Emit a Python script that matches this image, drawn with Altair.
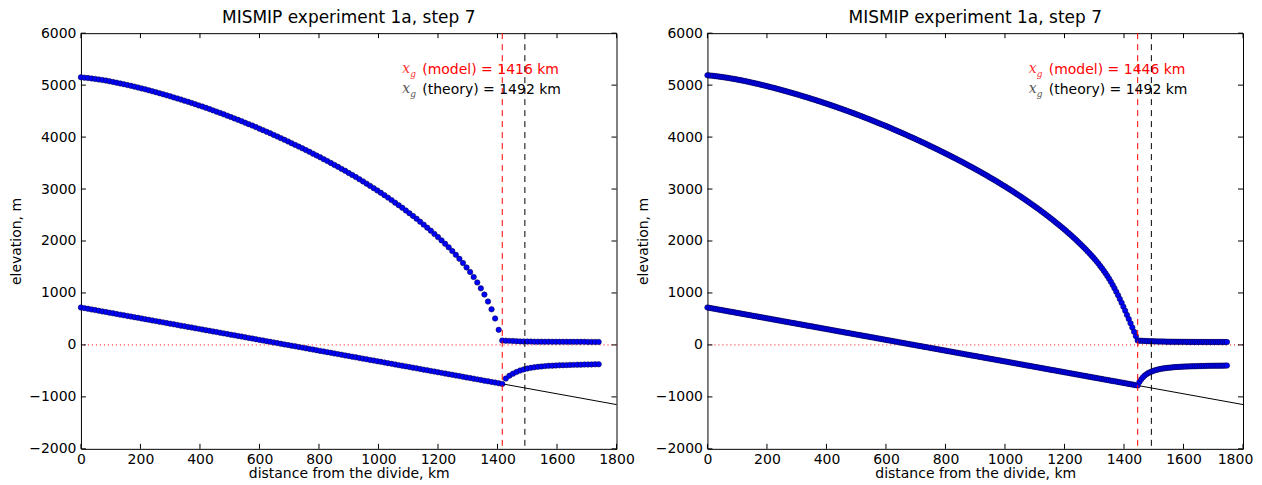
import altair as alt
import pandas as pd

TITLE = "MISMIP experiment 1a, step 7"
X_TITLE = "distance from the divide, km"
Y_TITLE = "elevation, m"

x_ticks = [0, 200, 400, 600, 800, 1000, 1200, 1400, 1600, 1800]
y_ticks = [-2000, -1000, 0, 1000, 2000, 3000, 4000, 5000, 6000]

bed_x = [0, 1800]
bed_y = [720, -1148]

xg_theory = 1492
xg_model_left = 1416
xg_model_right = 1446

annot_x = 1080
annot_y = [5300, 4900]
annot_left = ["(model) = 1416 km", "(theory) = 1492 km"]
annot_right = ["(model) = 1446 km", "(theory) = 1492 km"]
annot_colors = ["#ff0000", "#000000"]
annot_sym_colors = ["#ff3030", "#555555"]

# ---------------- left panel (12 km grid) ----------------
left_dist = [
    0, 12, 24, 36, 48, 60, 72, 84, 96, 108, 120, 132, 144, 156, 168, 180, 192, 204, 216, 228,
    240, 252, 264, 276, 288, 300, 312, 324, 336, 348, 360, 372, 384, 396, 408, 420, 432, 444, 456, 468,
    480, 492, 504, 516, 528, 540, 552, 564, 576, 588, 600, 612, 624, 636, 648, 660, 672, 684, 696, 708,
    720, 732, 744, 756, 768, 780, 792, 804, 816, 828, 840, 852, 864, 876, 888, 900, 912, 924, 936, 948,
    960, 972, 984, 996, 1008, 1020, 1032, 1044, 1056, 1068, 1080, 1092, 1104, 1116, 1128, 1140, 1152, 1164, 1176, 1188,
    1200, 1212, 1224, 1236, 1248, 1260, 1272, 1284, 1296, 1308, 1320, 1332, 1344, 1356, 1368, 1380, 1392, 1404, 1416, 1428,
    1440, 1452, 1464, 1476, 1488, 1500, 1512, 1524, 1536, 1548, 1560, 1572, 1584, 1596, 1608, 1620, 1632, 1644, 1656, 1668,
    1680, 1692, 1704, 1716, 1728, 1740,
]
left_surface_grounded = [
    5150, 5144, 5136, 5128, 5119, 5109, 5098, 5087, 5074, 5061,
    5047, 5033, 5018, 5003, 4987, 4971, 4954, 4937, 4919, 4901,
    4882, 4864, 4845, 4825, 4805, 4785, 4764, 4743, 4722, 4700,
    4678, 4656, 4633, 4610, 4587, 4563, 4539, 4514, 4489, 4464,
    4438, 4412, 4386, 4359, 4332, 4305, 4277, 4249, 4221, 4192,
    4162, 4133, 4103, 4073, 4042, 4011, 3980, 3948, 3916, 3883,
    3850, 3817, 3784, 3750, 3716, 3681, 3646, 3611, 3575, 3539,
    3502, 3464, 3427, 3388, 3350, 3310, 3270, 3230, 3189, 3147,
    3104, 3061, 3017, 2973, 2928, 2882, 2835, 2787, 2738, 2689,
    2639, 2587, 2535, 2482, 2428, 2372, 2315, 2257, 2198, 2137,
    2075, 2012, 1946, 1878, 1807, 1734, 1657, 1576, 1492, 1403,
    1306, 1202, 1089, 969, 835, 686, 509, 290,
]
left_surface_floating = [
    83, 80, 78, 76, 72, 68, 66, 65, 64, 63, 62, 62, 61, 61,
    60, 60, 60, 60, 60, 59, 59, 59, 59, 59, 58, 58, 58, 58,
]
left_base_grounded = [
    720, 708, 695, 683, 670, 658, 645, 633, 620, 608,
    595, 583, 571, 558, 546, 533, 521, 508, 496, 483,
    471, 458, 446, 434, 421, 409, 396, 384, 371, 359,
    346, 334, 321, 309, 297, 284, 272, 259, 247, 234,
    222, 209, 197, 184, 172, 160, 147, 135, 122, 110,
    97, 85, 72, 60, 47, 35, 22, 10, -2, -15,
    -27, -40, -52, -65, -77, -90, -102, -115, -127, -139,
    -152, -164, -177, -189, -202, -214, -227, -239, -252, -264,
    -276, -289, -301, -314, -326, -339, -351, -364, -376, -389,
    -401, -413, -426, -438, -451, -463, -476, -488, -501, -513,
    -526, -538, -551, -563, -575, -588, -600, -613, -625, -638,
    -650, -663, -675, -688, -700, -712, -725, -737,
]
left_base_floating = [
    -750, -648, -592, -553, -520, -493, -472, -455, -441, -430,
    -421, -414, -408, -403, -399, -396, -393, -391, -389, -386,
    -384, -382, -380, -378, -377, -375, -374, -373,
]

# ---------------- right panel (6 km grid) ----------------
right_dist = [
    0, 6, 12, 18, 24, 30, 36, 42, 48, 54, 60, 66, 72, 78, 84, 90, 96, 102, 108, 114,
    120, 126, 132, 138, 144, 150, 156, 162, 168, 174, 180, 186, 192, 198, 204, 210, 216, 222, 228, 234,
    240, 246, 252, 258, 264, 270, 276, 282, 288, 294, 300, 306, 312, 318, 324, 330, 336, 342, 348, 354,
    360, 366, 372, 378, 384, 390, 396, 402, 408, 414, 420, 426, 432, 438, 444, 450, 456, 462, 468, 474,
    480, 486, 492, 498, 504, 510, 516, 522, 528, 534, 540, 546, 552, 558, 564, 570, 576, 582, 588, 594,
    600, 606, 612, 618, 624, 630, 636, 642, 648, 654, 660, 666, 672, 678, 684, 690, 696, 702, 708, 714,
    720, 726, 732, 738, 744, 750, 756, 762, 768, 774, 780, 786, 792, 798, 804, 810, 816, 822, 828, 834,
    840, 846, 852, 858, 864, 870, 876, 882, 888, 894, 900, 906, 912, 918, 924, 930, 936, 942, 948, 954,
    960, 966, 972, 978, 984, 990, 996, 1002, 1008, 1014, 1020, 1026, 1032, 1038, 1044, 1050, 1056, 1062, 1068, 1074,
    1080, 1086, 1092, 1098, 1104, 1110, 1116, 1122, 1128, 1134, 1140, 1146, 1152, 1158, 1164, 1170, 1176, 1182, 1188, 1194,
    1200, 1206, 1212, 1218, 1224, 1230, 1236, 1242, 1248, 1254, 1260, 1266, 1272, 1278, 1284, 1290, 1296, 1302, 1308, 1314,
    1320, 1326, 1332, 1338, 1344, 1350, 1356, 1362, 1368, 1374, 1380, 1386, 1392, 1398, 1404, 1410, 1416, 1422, 1428, 1434,
    1440, 1446, 1452, 1458, 1464, 1470, 1476, 1482, 1488, 1494, 1500, 1506, 1512, 1518, 1524, 1530, 1536, 1542, 1548, 1554,
    1560, 1566, 1572, 1578, 1584, 1590, 1596, 1602, 1608, 1614, 1620, 1626, 1632, 1638, 1644, 1650, 1656, 1662, 1668, 1674,
    1680, 1686, 1692, 1698, 1704, 1710, 1716, 1722, 1728, 1734, 1740, 1746,
]
right_surface_grounded = [
    5190, 5187, 5183, 5179, 5175, 5171, 5167, 5162, 5157, 5152,
    5147, 5142, 5136, 5130, 5124, 5118, 5112, 5105, 5099, 5092,
    5085, 5078, 5071, 5063, 5056, 5048, 5040, 5033, 5025, 5017,
    5008, 5000, 4991, 4983, 4974, 4965, 4957, 4948, 4939, 4929,
    4920, 4911, 4901, 4892, 4882, 4873, 4863, 4853, 4843, 4834,
    4824, 4813, 4803, 4793, 4782, 4772, 4761, 4751, 4740, 4729,
    4718, 4707, 4696, 4685, 4674, 4663, 4651, 4640, 4628, 4616,
    4605, 4593, 4581, 4569, 4557, 4545, 4532, 4520, 4507, 4495,
    4482, 4470, 4457, 4444, 4431, 4418, 4405, 4391, 4378, 4365,
    4351, 4338, 4324, 4310, 4296, 4282, 4268, 4254, 4240, 4226,
    4212, 4197, 4183, 4168, 4153, 4138, 4124, 4109, 4094, 4079,
    4063, 4048, 4033, 4017, 4002, 3986, 3971, 3955, 3939, 3923,
    3907, 3891, 3875, 3858, 3842, 3826, 3809, 3793, 3776, 3759,
    3742, 3725, 3708, 3691, 3674, 3657, 3639, 3622, 3604, 3587,
    3569, 3551, 3533, 3515, 3497, 3478, 3460, 3441, 3423, 3404,
    3385, 3366, 3347, 3328, 3308, 3289, 3269, 3249, 3229, 3209,
    3189, 3168, 3148, 3127, 3106, 3085, 3064, 3043, 3021, 3000,
    2978, 2956, 2934, 2911, 2888, 2866, 2843, 2819, 2796, 2772,
    2748, 2724, 2700, 2676, 2651, 2626, 2601, 2575, 2550, 2524,
    2498, 2471, 2444, 2417, 2390, 2362, 2334, 2306, 2278, 2249,
    2220, 2191, 2161, 2131, 2100, 2069, 2037, 2005, 1972, 1939,
    1905, 1871, 1835, 1799, 1763, 1725, 1687, 1648, 1608, 1565,
    1521, 1475, 1428, 1378, 1327, 1272, 1215, 1154, 1091, 1024,
    956, 884, 811, 735, 657, 578, 498, 417, 335, 252,
    169,
]
right_surface_floating = [
    84, 82, 80, 78, 76, 74, 72, 71, 70, 69,
    68, 67, 66, 65, 64, 64, 63, 62, 62, 61,
    61, 60, 60, 60, 59, 59, 59, 59, 58, 58,
    58, 58, 58, 57, 57, 57, 57, 57, 57, 56,
    56, 56, 56, 56, 56, 56, 56, 56, 55, 55,
    55,
]
right_base_grounded = [
    720, 714, 708, 701, 695, 689, 683, 676, 670, 664,
    658, 651, 645, 639, 633, 627, 620, 614, 608, 602,
    595, 589, 583, 577, 571, 564, 558, 552, 546, 539,
    533, 527, 521, 514, 508, 502, 496, 490, 483, 477,
    471, 465, 458, 452, 446, 440, 434, 427, 421, 415,
    409, 402, 396, 390, 384, 377, 371, 365, 359, 353,
    346, 340, 334, 328, 321, 315, 309, 303, 297, 290,
    284, 278, 272, 265, 259, 253, 247, 240, 234, 228,
    222, 216, 209, 203, 197, 191, 184, 178, 172, 166,
    160, 153, 147, 141, 135, 128, 122, 116, 110, 103,
    97, 91, 85, 79, 72, 66, 60, 54, 47, 41,
    35, 29, 22, 16, 10, 4, -2, -9, -15, -21,
    -27, -34, -40, -46, -52, -59, -65, -71, -77, -83,
    -90, -96, -102, -108, -115, -121, -127, -133, -139, -146,
    -152, -158, -164, -171, -177, -183, -189, -196, -202, -208,
    -214, -220, -227, -233, -239, -245, -252, -258, -264, -270,
    -276, -283, -289, -295, -301, -308, -314, -320, -326, -333,
    -339, -345, -351, -357, -364, -370, -376, -382, -389, -395,
    -401, -407, -413, -420, -426, -432, -438, -445, -451, -457,
    -463, -470, -476, -482, -488, -494, -501, -507, -513, -519,
    -526, -532, -538, -544, -551, -557, -563, -569, -575, -582,
    -588, -594, -600, -607, -613, -619, -625, -631, -638, -644,
    -650, -656, -663, -669, -675, -681, -688, -694, -700, -706,
    -712, -719, -725, -731, -737, -744, -750, -756, -762, -769,
    -775,
]
right_base_floating = [
    -781, -712, -660, -620, -588, -562, -541, -524, -509, -496,
    -485, -476, -468, -461, -455, -450, -445, -441, -437, -433,
    -430, -427, -425, -423, -421, -419, -417, -416, -414, -413,
    -412, -411, -410, -409, -408, -407, -406, -405, -404, -403,
    -402, -402, -401, -401, -400, -400, -399, -399, -399, -398,
    -398,
]

left_surface = left_surface_grounded + left_surface_floating
left_base = left_base_grounded + left_base_floating
right_surface = right_surface_grounded + right_surface_floating
right_base = right_base_grounded + right_base_floating

assert len(left_surface) == len(left_dist) == len(left_base), (len(left_dist), len(left_surface), len(left_base))
assert len(right_surface) == len(right_dist) == len(right_base), (len(right_dist), len(right_surface), len(right_base))

W, H = 536, 416
FONT = "DejaVu Sans"

x_scale = alt.Scale(domain=[0, 1800], nice=False, zero=False)
y_scale = alt.Scale(domain=[-2000, 6000], nice=False, zero=False)

common_axis = dict(
    format="d", ticks=False, domain=False, grid=False, labelFlush=False, labelOverlap=False,
    labelFont=FONT, titleFont=FONT, labelFontSize=14, titleFontSize=14,
    titleFontWeight="normal", labelColor="black", titleColor="black",
)
x_axis_left = alt.Axis(title=X_TITLE, values=x_ticks, labelPadding=4, titlePadding=0, **common_axis)
# last tick label of the right panel nudged left so the page keeps its width
x_axis_right = alt.Axis(
    title=X_TITLE, values=x_ticks, labelPadding=4, titlePadding=0,
    labelOffset={"condition": {"test": "datum.value == 1800", "value": -8}, "value": 0},
    **common_axis,
)
y_axis = alt.Axis(
    title=Y_TITLE, values=y_ticks, labelPadding=5, titlePadding=15,
    minExtent=42, maxExtent=42, **common_axis,
)


def panel(dist, surf, base, xg_model, annot_texts, x_axis):
    def X():
        return alt.X("dist:Q", scale=x_scale, axis=x_axis)

    def Y():
        return alt.Y("elev:Q", scale=y_scale, axis=y_axis)

    bed = alt.Chart(pd.DataFrame({"dist": bed_x, "elev": bed_y})).mark_line(
        color="black", strokeWidth=1
    ).encode(x=X(), y=Y())

    zero = alt.Chart(pd.DataFrame({"elev": [0]})).mark_rule(
        color="#ff0000", strokeWidth=1, strokeDash=[1, 3]
    ).encode(y=Y())

    pts = alt.Chart(pd.DataFrame({"dist": dist + dist, "elev": surf + base})).mark_point(
        shape="circle", filled=True, size=30, color="#0000ff", fill="#0000ff",
        stroke="#000033", strokeWidth=0.5, opacity=1,
    ).encode(x=X(), y=Y())

    vlines = alt.Chart(pd.DataFrame({
        "dist": [xg_model, xg_theory], "c": ["#ff0000", "#000000"]
    })).mark_rule(strokeWidth=1, strokeDash=[6, 5]).encode(
        x=X(), color=alt.Color("c:N", scale=None)
    )

    adf = pd.DataFrame({
        "dist": [annot_x, annot_x], "elev": annot_y, "label": annot_texts,
        "c": annot_colors, "cs": annot_sym_colors,
        "sym": ["x", "x"], "sub": ["g", "g"],
    })
    sym = alt.Chart(adf).mark_text(
        font="DejaVu Serif", fontStyle="italic", fontSize=14, align="left", baseline="middle", dy=-1
    ).encode(x=X(), y=Y(), text="sym:N", color=alt.Color("cs:N", scale=None))
    sub = alt.Chart(adf).mark_text(
        font="DejaVu Serif", fontStyle="italic", fontSize=9, align="left", baseline="middle", dx=8, dy=4
    ).encode(x=X(), y=Y(), text="sub:N", color=alt.Color("cs:N", scale=None))
    txt = alt.Chart(adf).mark_text(
        font=FONT, fontSize=14, align="left", baseline="middle", dx=20
    ).encode(x=X(), y=Y(), text="label:N", color=alt.Color("c:N", scale=None))

    ydf = pd.DataFrame({"elev": y_ticks})
    xdf = pd.DataFrame({"dist": x_ticks})
    tick_l = alt.Chart(ydf).mark_rule(color="black", strokeWidth=1).encode(
        y=Y(), x=alt.value(0), x2=alt.value(5))
    tick_r = alt.Chart(ydf).mark_rule(color="black", strokeWidth=1).encode(
        y=Y(), x=alt.value(W - 5), x2=alt.value(W))
    tick_b = alt.Chart(xdf).mark_rule(color="black", strokeWidth=1).encode(
        x=X(), y=alt.value(H - 5), y2=alt.value(H))
    tick_t = alt.Chart(xdf).mark_rule(color="black", strokeWidth=1).encode(
        x=X(), y=alt.value(0), y2=alt.value(5))

    return alt.layer(
        bed, zero, pts, vlines, sym, sub, txt, tick_l, tick_r, tick_b, tick_t
    ).properties(
        width=W, height=H,
        title=alt.TitleParams(
            TITLE, fontSize=17, font=FONT, fontWeight="normal", color="black",
            offset=-1, frame="group", anchor="middle",
        ),
    )


left = panel(left_dist, left_surface, left_base, xg_model_left, annot_left, x_axis_left)
right = panel(right_dist, right_surface, right_base, xg_model_right, annot_right, x_axis_right)

chart = alt.hconcat(left, right, spacing=0).properties(
    padding={"left": 1, "top": 0, "right": 0, "bottom": 0},
    background="white",
).configure_view(
    stroke="black", strokeWidth=1
)

chart.save("out.html", embed_options={"renderer": "svg", "actions": False})
